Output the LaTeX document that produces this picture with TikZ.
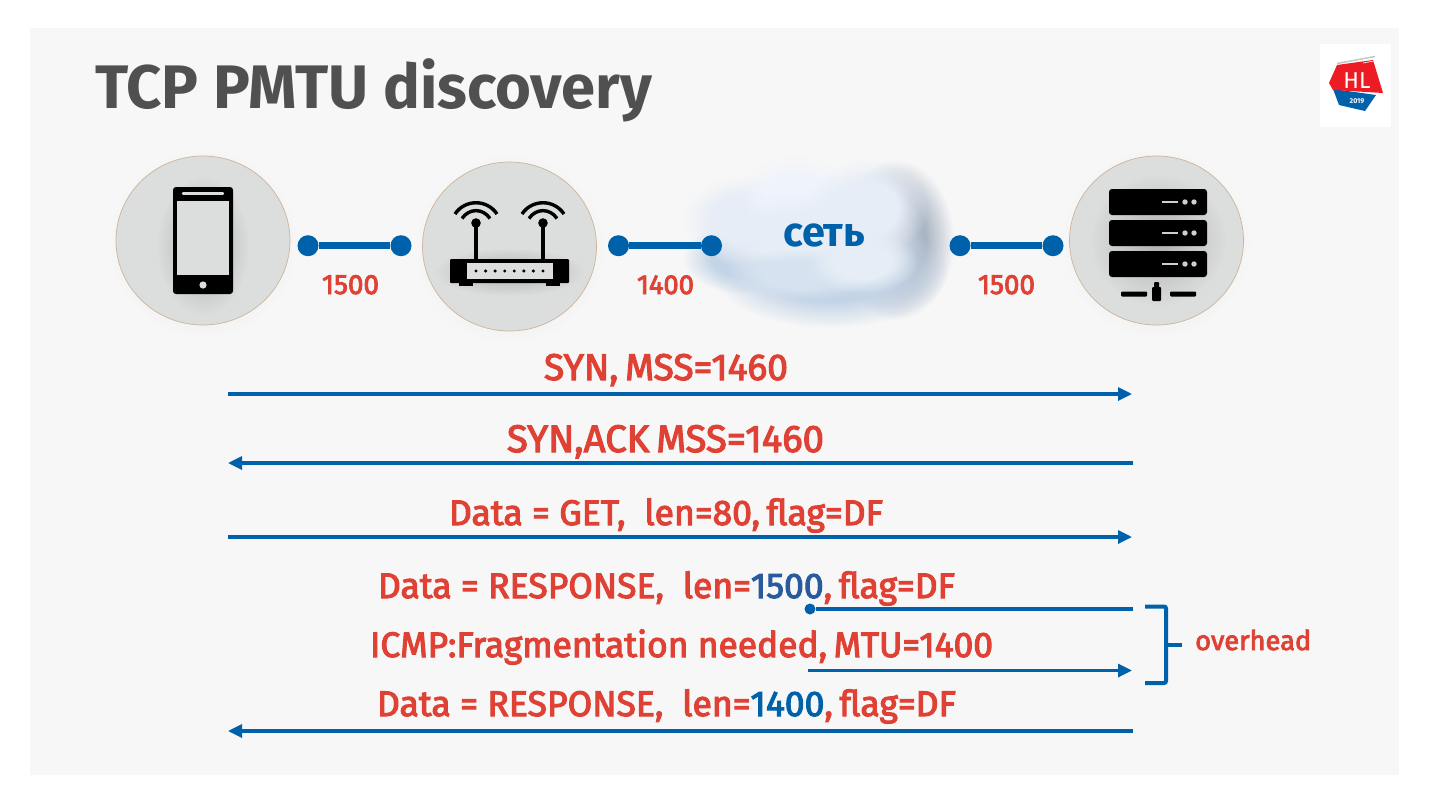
\documentclass[tikz,border=0pt]{standalone}
\usepackage{graphicx}
\usepackage{fontspec}
\setmainfont[FakeBold=3]{Fira Sans}
\newfontfamily\titlefont{Fira Sans}
\newfontfamily\plainfont{Fira Sans}
\usetikzlibrary{fadings,arrows.meta,shapes.geometric}
\definecolor{bgc}{HTML}{F7F7F7}
\definecolor{discc}{HTML}{DCDDDD}
\definecolor{rimc}{HTML}{CDB49A}
\definecolor{redt}{HTML}{DF4134}
\definecolor{bluel}{HTML}{0061AB}
\definecolor{blued}{HTML}{2A5A9E}
\definecolor{titlec}{HTML}{505050}
\definecolor{logored}{HTML}{ED1C24}
\definecolor{cshadow}{HTML}{C3D4E7}
\definecolor{cdark}{HTML}{A3AFBF}
\definecolor{cbody}{HTML}{E6EDF6}
\definecolor{clight}{HTML}{EFF4FC}
\definecolor{cmid}{HTML}{D6E2F0}
\tikzfading[name=softc,inner color=transparent!0,outer color=transparent!100]
\pgfdeclareradialshading{platsh}{\pgfpointorigin}{color(0bp)=(transparent!0); color(13bp)=(transparent!0); color(25bp)=(transparent!100); color(50bp)=(transparent!100)}
\pgfdeclarefading{plat}{\pgfuseshading{platsh}}
\tikzset{
  x=1pt,y=-1pt,
  txt/.style={anchor=base west,inner sep=0pt,outer sep=0pt,text=redt,font=\fontsize{35}{35}\selectfont},
  disc/.style={ellipse,draw=rimc,line width=.7pt,fill=discc,minimum width=174pt,minimum height=169pt,inner sep=0pt},
  endpt/.style={circle,fill=bluel,minimum size=21pt,inner sep=0pt},
  smalldot/.style={circle,fill=bluel,minimum size=11pt,inner sep=0pt},
  link/.style={draw=bluel,line width=7pt},
  msg/.style={draw=bluel,line width=3.2pt,-{Triangle[length=14pt,width=13pt]},shorten >=0pt},
  msgplain/.style={draw=bluel,line width=3.2pt},
  numlab/.style={anchor=base,inner sep=0pt,text=redt,font=\fontsize{27}{27}\selectfont},
  puff/.style={path fading=plat,fill=#1},
  icon/.style={fill=black},
}
\newcommand{\fitw}[2]{\resizebox{#1pt}{!}{#2}}
\newcommand{\softel}[5]{\fill[puff=#5] (#1,#2) ellipse [x radius=#3pt,y radius=#4pt];}
\begin{document}
\begin{tikzpicture}
\useasboundingbox (0,0) rectangle (1430,804);
\fill[white] (0,0) rectangle (1430,804);
\fill[bgc] (30,28) rectangle (1399,775);

% title
\node[anchor=base west,inner sep=0pt,text=titlec] (title) at (95,108)
  {\fitw{557}{\titlefont\bfseries\fontsize{62}{62}\selectfont TCP PMTU discovery}};

% logo
\fill[white] (1320,44) rectangle (1391,127);
\fill[bluel] (1333,89) -- (1376,95) -- (1365,111) -- (1339,105) -- cycle;
\fill[logored] (1337,65) -- (1373,60) -- (1383,93) -- (1333,90) -- (1329,83) -- cycle;
\draw[gray!45,line width=1.5pt] (1337,63.5) -- (1375,56.5);
\draw[white,line width=.6pt] (1363,63) -- (1374,61);
\node[text=white,inner sep=0pt,font=\plainfont\fontsize{23}{23}\selectfont] (logohl) at (1357,81) {HL};
\node[text=white,inner sep=0pt,font=\plainfont\bfseries\fontsize{7}{7}\selectfont] (logoyr) at (1357,101) {2019};

% cloud
\begin{scope}
\fill[cdark,opacity=.9,path fading=plat] (896,240) ellipse [x radius=58pt,y radius=80pt];
\softel{830}{272}{118}{56}{cshadow}
\softel{745}{258}{62}{36}{cshadow}
\softel{745}{220}{62}{44}{cbody}
\softel{795}{198}{58}{42}{clight}
\softel{868}{208}{60}{50}{cbody}
\softel{815}{240}{108}{50}{cbody}
\softel{800}{275}{74}{26}{cmid}
\softel{862}{262}{56}{32}{cbody}
\end{scope}
\node[text=bluel,inner sep=0pt,anchor=base] (net) at (824,246)
  {\fitw{82}{\titlefont\bfseries\fontsize{36}{36}\selectfont сеть}};

% discs
\fill[black,opacity=.10,path fading=softc] (203,243) circle (95pt);
\fill[black,opacity=.10,path fading=softc] (509.5,249) circle (95pt);
\fill[black,opacity=.10,path fading=softc] (1156.5,243) circle (95pt);
\node[disc] (phone) at (203,240.5) {};
\node[disc] (router) at (509.5,246.5) {};
\node[disc] (server) at (1156.5,240.5) {};

% phone icon
\fill[black,opacity=.22,path fading=softc] (203,246) ellipse [x radius=46pt,y radius=70pt];
\fill[icon,rounded corners=3pt] (173,187) rectangle (233,294);
\fill[discc] (177,201) rectangle (229,275);
\draw[discc,line width=2.4pt,line cap=round] (183,193.5) -- (223,193.5);
\fill[discc] (203,285) circle (3.6pt);

% router icon
\fill[black,opacity=.2,path fading=softc] (509.5,272) ellipse [x radius=76pt,y radius=24pt];
\draw[line width=3.6pt,black] (476,223) -- (476,260);
\draw[line width=3.6pt,black] (543,223) -- (543,260);
\fill[icon] (476,223) circle (4.8pt);
\fill[icon] (543,223) circle (4.8pt);
\foreach \cx in {476,543}{
  \draw[black,line width=3.4pt] (\cx-21,214) .. controls (\cx-11,199) and (\cx+11,199) .. (\cx+21,214);
  \draw[black,line width=3.4pt] (\cx-14,218.5) .. controls (\cx-7,208) and (\cx+7,208) .. (\cx+14,218.5);
}
\fill[icon,rounded corners=1pt] (450,259) rectangle (569,283);
\fill[icon] (459,283) rectangle (473,286);
\fill[icon] (546,283) rectangle (560,286);
\fill[discc] (467,263) rectangle (553,279);
\foreach \i in {0,...,7}{ \fill[icon] ({476+\i*9.57},271) circle (1.7pt); }

% server icon
\fill[black,opacity=.2,path fading=softc] (1158,240) ellipse [x radius=68pt,y radius=66pt];
\foreach \ya/\yb in {189/215,220/246,251/277}{
  \fill[icon,rounded corners=3pt] (1109,\ya) rectangle (1207,\yb);
  \draw[discc!85!gray,line width=1.9pt] (1162,{(\ya+\yb)/2}) -- (1178,{(\ya+\yb)/2});
  \fill[discc!85!gray] (1185,{(\ya+\yb)/2}) circle (2.7pt);
  \fill[discc!85!gray] (1194,{(\ya+\yb)/2}) circle (2.7pt);
}
\fill[icon,rounded corners=1pt] (1121,291.5) rectangle (1147,296.5);
\fill[icon,rounded corners=1pt] (1170,291.5) rectangle (1196,296.5);
\fill[icon,rounded corners=1pt] (1152,287) rectangle (1161,301);
\fill[icon,rounded corners=1pt] (1154,282) rectangle (1159,288);

% topology links
\node[endpt] (a1) at (308,245.7) {};
\node[endpt] (a2) at (401,245.7) {};
\node[endpt] (b1) at (618.5,245.7) {};
\node[endpt] (b2) at (711.5,245.7) {};
\node[endpt] (c1) at (960,245.7) {};
\node[endpt] (c2) at (1053,245.7) {};
\draw[link] (a1) -- (a2);
\draw[link] (b1) -- (b2);
\draw[link] (c1) -- (c2);
\node[numlab] (la) at (350.5,294) {\fitw{57}{1500}};
\node[numlab] (lb) at (665.5,294) {\fitw{57}{1400}};
\node[numlab] (lc) at (1006.5,294) {\fitw{57}{1500}};

% messages
\node[txt] (m1) at (544,380) {\fitw{244}{SYN,\hspace{-.08em} MSS=1460}};
\node[txt] (m2) at (507,452) {\fitw{317}{SYN,ACK\hspace{-.08em} MSS=1460}};
\node[txt] (m3) at (449,525) {\fitw{434}{Data = GET,\ \ len=80,\hspace{-.08em} flag=DF}};
\node[txt] (m4) at (378,598) {\fitw{577}{Data = RESPONSE,\ \ len=\textcolor{blued}{1500},\hspace{-.08em} flag=DF}};
\node[txt] (m5) at (370,657) {\fitw{623}{ICMP:Fragmentation needed,\hspace{-.08em} MTU=1400}};
\node[txt] (m6) at (377,716) {\fitw{579}{Data = RESPONSE,\ \ len=\textcolor{bluel}{1400},\hspace{-.08em} flag=DF}};

\coordinate (l1) at (228,394);   \coordinate (r1) at (1132,394);
\coordinate (l2) at (228,463);   \coordinate (r2) at (1133,463);
\coordinate (l3) at (228,537);   \coordinate (r3) at (1132,537);
\node[smalldot] (d4) at (810,609) {};
\coordinate (r4) at (1133,609);
\coordinate (l5) at (808,670.5); \coordinate (r5) at (1132,670.5);
\coordinate (l6) at (228,731);   \coordinate (r6) at (1133,731);
\draw[msg] (l1) -- (r1);
\draw[msg] (r2) -- (l2);
\draw[msg] (l3) -- (r3);
\draw[msgplain] (d4) -- (r4);
\draw[msg] (l5) -- (r5);
\draw[msg] (r6) -- (l6);

% bracket
\coordinate (bt) at (1145,606.5);
\coordinate (bb) at (1145,683);
\coordinate (bm) at (1182,644.5);
\draw[bluel,line width=4pt,rounded corners=2pt] (bt) -- (1166,606.5) -- (1166,683) -- (bb);
\draw[bluel,line width=4pt] (1166,644.5) -- (bm);
\node[numlab,anchor=base west] (ov) at (1195,650) {\fitw{116}{overhead}};
\end{tikzpicture}
\end{document}
